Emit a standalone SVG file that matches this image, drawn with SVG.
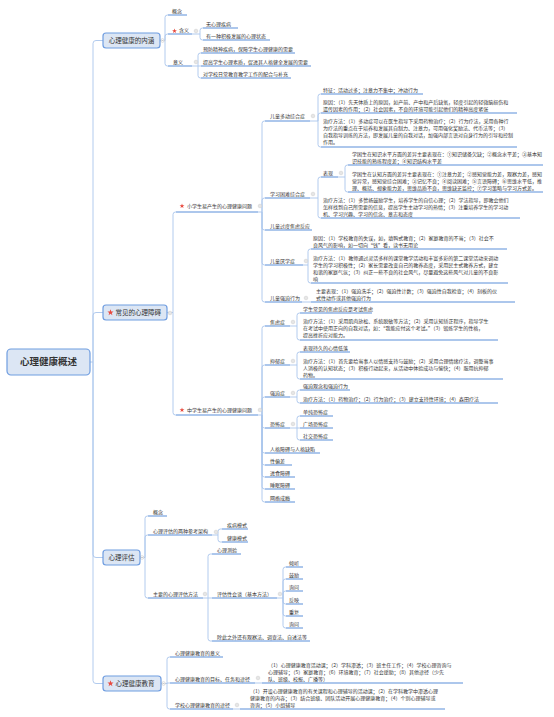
<svg xmlns="http://www.w3.org/2000/svg" width="554" height="717" viewBox="0 0 554 717">
<style>
text{font-family:"Noto Sans CJK SC","Noto Sans",sans-serif;fill:#333}
.t{font-size:5px}
.b{font-size:6.5px}
.r{font-size:9.5px;font-weight:bold}
.ul{stroke:#5b8fd9;stroke-width:1}
.c{fill:none;stroke:#a9c5ec;stroke-width:0.9}
.box{fill:#dce6f4;stroke:#6f9de0;stroke-width:1.2}
.fold{fill:#fff;stroke:#bbb;stroke-width:0.5}
.m{stroke:#999;stroke-width:0.5}
</style>
<defs>
<path id="star" d="M0,-2.6 L0.62,-0.85 L2.47,-0.8 L1,0.32 L1.53,2.1 L0,1.05 L-1.53,2.1 L-1,0.32 L-2.47,-0.8 L-0.62,-0.85Z" fill="#e84a3f"/>
<g id="fd"><circle r="1.8" class="fold"/><line x1="-1" x2="1" class="m"/></g>
</defs>
<rect width="554" height="717" fill="#fff"/>

<g id="connectors">
<path class="c" d="M90 362 H93 M93 362 V43.5 Q93 40.5 96 40.5 H103 M93 362 V315.5 Q93 312.5 96 312.5 H103 M93 362 V554.5 Q93 557.5 96 557.5 H103 M93 362 V680.5 Q93 683.5 96 683.5 H103"/>
<path class="c" d="M160 40.5 H165 M165 40.5 V17.5 Q165 15 167.5 15 H168 M165 40.5 V36.5 Q165 34 167.5 34 H168 M165 40.5 V63.5 Q165 66 167.5 66 H168"/>
<path class="c" d="M192 34 H200 M200 34 V30.5 Q200 28 202.5 28 H203 M200 34 V37.5 Q200 40 202.5 40 H203"/>
<path class="c" d="M192 66 H198 M198 66 V55.5 Q198 53 200.5 53 H201 M198 66 H201 M198 66 V75.5 Q198 78 200.5 78 H201"/>
<path class="c" d="M167 312.5 H173 M173 312.5 V214.5 Q173 212 175.5 212 H176 M173 312.5 V412.5 Q173 415 175.5 415 H176"/>
<path class="c" d="M258 212 H262 M262 212 V123.5 Q262 121 264.5 121 H265 M262 212 V200.5 Q262 198 264.5 198 H265 M262 212 V227.5 Q262 230 264.5 230 H265 M262 212 V262.5 Q262 265 264.5 265 H265 M262 212 V299.5 Q262 302 264.5 302 H265"/>
<path class="c" d="M258 415 H262 M262 415 V328.5 Q262 326 264.5 326 H265 M262 415 V367.5 Q262 365 264.5 365 H265 M262 415 V399.5 Q262 397 264.5 397 H265 M262 415 V425.5 Q262 428 264.5 428 H265 M262 415 V450.5 Q262 453 264.5 453 H265 M262 415 V462.5 Q262 465 264.5 465 H265 M262 415 V474.5 Q262 477 264.5 477 H265 M262 415 V486.5 Q262 489 264.5 489 H265 M262 415 V499.5 Q262 502 264.5 502 H265"/>
<path class="c" d="M310 121 H318 M318 121 V96.5 Q318 94 320.5 94 H321 M318 121 V115.5 Q318 113 320.5 113 H321 M318 121 V144.5 Q318 147 320.5 147 H321"/>
<path class="c" d="M310 198 H318 M318 198 V179.5 Q318 177 320.5 177 H321 M318 198 V215.5 Q318 218 320.5 218 H321"/>
<path class="c" d="M338 177 H345 M345 177 V167.5 Q345 165 347.5 165 H348 M345 177 V189.5 Q345 192 347.5 192 H348"/>
<path class="c" d="M303 265 H308 M308 265 V251.5 Q308 249 310.5 249 H311 M308 265 V280.5 Q308 283 310.5 283 H311"/>
<path class="c" d="M302 302 H311"/>
<path class="c" d="M290 326 H297 M297 326 V315.5 Q297 313 299.5 313 H300 M297 326 V337.5 Q297 340 299.5 340 H300"/>
<path class="c" d="M290 365 H297 M297 365 V354.5 Q297 352 299.5 352 H300 M297 365 V376.5 Q297 379 299.5 379 H300"/>
<path class="c" d="M290 397 H297 M297 397 V392.5 Q297 390 299.5 390 H300 M297 397 V400.5 Q297 403 299.5 403 H300"/>
<path class="c" d="M290 428 H297 M297 428 V418.5 Q297 416 299.5 416 H300 M297 428 H300 M297 428 V437.5 Q297 440 299.5 440 H300"/>
<path class="c" d="M140 557.5 H145 M145 557.5 V518.5 Q145 516 147.5 516 H148 M145 557.5 V537.5 Q145 535 147.5 535 H148 M145 557.5 V595.5 Q145 598 147.5 598 H148"/>
<path class="c" d="M212 535 H218 M218 535 V531.5 Q218 529 220.5 529 H222 M218 535 V539.5 Q218 542 220.5 542 H222"/>
<path class="c" d="M203 598 H208 M208 598 V556.5 Q208 554 210.5 554 H212 M208 598 H212 M208 598 V638.5 Q208 641 210.5 641 H212"/>
<path class="c" d="M277 598 H283 M283 598 V569.5 Q283 567 285.5 567 H286 M283 598 V581.5 Q283 579 285.5 579 H286 M283 598 V593.5 Q283 591 285.5 591 H286 M283 598 V601.5 Q283 604 285.5 604 H286 M283 598 V613.5 Q283 616 285.5 616 H286 M283 598 V625.5 Q283 628 285.5 628 H286"/>
<path class="c" d="M161 683.5 H167 M167 683.5 V659.5 Q167 657 169.5 657 H170 M167 683.5 V683 H170 M167 683.5 V706.5 Q167 709 169.5 709 H170"/>
<path class="c" d="M255 683 H262 M233 709 H240"/>
<use href="#fd" x="162.5" y="40.5"/><use href="#fd" x="196" y="31"/><use href="#fd" x="196" y="62"/>
<use href="#fd" x="170" y="313"/><use href="#fd" x="260" y="206"/><use href="#fd" x="260" y="410"/>
<use href="#fd" x="313" y="116"/><use href="#fd" x="313" y="194"/><use href="#fd" x="341" y="173"/>
<use href="#fd" x="306" y="261"/><use href="#fd" x="306" y="298"/><use href="#fd" x="293" y="322"/>
<use href="#fd" x="293" y="361"/><use href="#fd" x="293" y="393"/><use href="#fd" x="293" y="424"/>
<use href="#fd" x="142" y="557.5"/><use href="#fd" x="216" y="532"/><use href="#fd" x="205" y="594"/>
<use href="#fd" x="280" y="594"/><use href="#fd" x="163.5" y="683.5"/><use href="#fd" x="258" y="678"/><use href="#fd" x="237" y="705"/>
</g>

<g id="root"><rect class="box" x="7" y="349" width="83" height="26" rx="4" stroke-width="1.6"/><text class="r" x="48.5" y="365.4" text-anchor="middle">心理健康概述</text></g>

<g id="n-neihan"><rect class="box" x="103" y="33" width="57" height="15" rx="3"/><text class="b" x="131.5" y="42.8" text-anchor="middle">心理健康的内涵</text></g>
<g id="n-gainian1"><text class="t" x="172" y="12.8">概念</text><line class="ul" x1="168" y1="15" x2="187" y2="15"/></g>
<g id="n-hanyi"><use href="#star" x="174.5" y="31"/><text class="t" x="179" y="31.8">含义</text><line class="ul" x1="168" y1="34" x2="192" y2="34"/></g>
<g id="n-hy1"><text class="t" x="206" y="25.8">无心理疾病</text><line class="ul" x1="203" y1="28" x2="238" y2="28"/></g>
<g id="n-hy2"><text class="t" x="206" y="37.8">有一种积极发展的心理状态</text><line class="ul" x1="203" y1="40" x2="270" y2="40"/></g>
<g id="n-yiyi"><text class="t" x="173" y="63.8">意义</text><line class="ul" x1="168" y1="66" x2="192" y2="66"/></g>
<g id="n-yy1"><text class="t" x="203" y="50.8">预防精神疾病，保障学生心理健康的需要</text><line class="ul" x1="201" y1="53" x2="295" y2="53"/></g>
<g id="n-yy2"><text class="t" x="203" y="63.8">提高学生心理素质，促进其人格健全发展的需要</text><line class="ul" x1="201" y1="66" x2="311" y2="66"/></g>
<g id="n-yy3"><text class="t" x="203" y="75.8">对学校日常教育教学工作的配合与补充</text><line class="ul" x1="201" y1="78" x2="291" y2="78"/></g>

<g id="n-zhangai"><rect class="box" x="103" y="305" width="64" height="15" rx="3"/><use href="#star" transform="translate(110.5 312.5) scale(1.25)"/><text class="b" x="115.5" y="314.8">常见的心理障碍</text></g>
<g id="n-xiao"><use href="#star" x="182" y="206"/><text class="t" x="187" y="208">小学生易产生的心理健康问题</text><line class="ul" x1="176" y1="212" x2="258" y2="212"/></g>
<g id="n-zhong"><use href="#star" x="182" y="410"/><text class="t" x="187" y="412">中学生易产生的心理健康问题</text><line class="ul" x1="176" y1="415" x2="258" y2="415"/></g>

<g id="n-duodong"><text class="t" x="270" y="117.5">儿童多动综合症</text><line class="ul" x1="265" y1="121" x2="310" y2="121"/></g>
<g id="n-dd1"><text class="t" x="323" y="91.5">特征：活动过多；注意力不集中；冲动行为</text><line class="ul" x1="321" y1="94" x2="423" y2="94"/></g>
<g id="n-dd2"><text class="t" x="323" y="103.6">原因：（1）先天体质上的原因，如产前、产中和产后缺氧，轻度引起的轻微脑损伤和</text><text class="t" x="323" y="110.5">遗传因素的作用；（2）社会因素，不良的环境可能引起他们的精神高度紧张</text><line class="ul" x1="321" y1="113" x2="517" y2="113"/></g>
<g id="n-dd3"><text class="t" x="323" y="123">治疗方法：（1）多动症可以在医生指导下采用药物治疗；（2）行为疗法，采用各种行</text><text class="t" x="323" y="130">为疗法的重点在于培养和发展其自制力、注意力，可用强化奖励法、代币法等；（3）</text><text class="t" x="323" y="137">自我指导训练的方法，即发展儿童的自我对话，加强内部言语对自身行为的引导和控制</text><text class="t" x="323" y="144">作用。</text><line class="ul" x1="321" y1="147" x2="517" y2="147"/></g>

<g id="n-xuexi"><text class="t" x="270" y="195.5">学习困难综合症</text><line class="ul" x1="265" y1="198" x2="310" y2="198"/></g>
<g id="n-biaoxian"><text class="t" x="323" y="174.5">表现</text><line class="ul" x1="321" y1="177" x2="338" y2="177"/></g>
<g id="n-bx1"><text class="t" x="352" y="156">学困生在知识水平方面的差异主要表现在：①知识储备欠缺；②概念水平差；③基本知</text><text class="t" x="352" y="163">识技能的熟练程度差；④知识结构水平差</text><line class="ul" x1="348" y1="165" x2="543" y2="165"/></g>
<g id="n-bx2"><text class="t" x="352" y="175.5">学困生在认知方面的差异主要表现在：①注意力差；②感知觉能力差，观察力差，感知</text><text class="t" x="352" y="182.5">觉异常，感知觉综合困难；③记忆不良；④阅读困难；⑤言语障碍；⑥思维水平低，推</text><text class="t" x="352" y="189.5">理、概括、想象能力差，思维品质不良，思维缺乏监控；⑦学习策略与学习方式差。</text><line class="ul" x1="348" y1="192" x2="543" y2="192"/></g>
<g id="n-xx2"><text class="t" x="323" y="201.5">治疗方法：（1）多赞扬鼓励学生，培养学生的自信心理；（2）学法指导，即教会他们</text><text class="t" x="323" y="208.5">怎样找到自己所需要的信息，提高学生主动学习的热情；（3）注重培养学生的学习动</text><text class="t" x="323" y="215.5">机、学习兴趣、学习的信念、意志和态度</text><line class="ul" x1="321" y1="218" x2="520" y2="218"/></g>

<g id="n-jiaolv0"><text class="t" x="270" y="227.5">儿童过度焦虑反应</text><line class="ul" x1="265" y1="230" x2="312" y2="230"/></g>

<g id="n-yanxue"><text class="t" x="270" y="262.5">儿童厌学症</text><line class="ul" x1="265" y1="265" x2="303" y2="265"/></g>
<g id="n-yx1"><text class="t" x="313" y="239.5">原因：（1）学校教育的失误，如，填鸭式教育；（2）家庭教育的不当；（3）社会不</text><text class="t" x="313" y="246.5">良风气的影响，如一切向“钱”看，读书无用论</text><line class="ul" x1="311" y1="249" x2="507" y2="249"/></g>
<g id="n-yx2"><text class="t" x="313" y="259.5">治疗方法：（1）教师通过灵活多样的课堂教学活动和丰富多彩的第二课堂活动来调动</text><text class="t" x="313" y="266.5">学生的学习积极性；（2）家长需要改变自己的教养态度，采用民主式教养方式，建立</text><text class="t" x="313" y="273.5">和谐的家庭气氛；（3）纠正一些不良的社会风气，尽量避免这些风气对儿童的不良影</text><text class="t" x="313" y="280.5">响</text><line class="ul" x1="311" y1="283" x2="508" y2="283"/></g>

<g id="n-qiangpo0"><text class="t" x="270" y="299.5">儿童强迫行为</text><line class="ul" x1="265" y1="302" x2="302" y2="302"/></g>
<g id="n-qp0"><text class="t" x="316" y="292.5">主要表现：（1）强迫洗手；（2）强迫性计数；（3）强迫性自我检查；（4）刻板的仪</text><text class="t" x="316" y="299.5">式性动作或其他强迫行为</text><line class="ul" x1="311" y1="302" x2="515" y2="302"/></g>

<g id="n-jiaolv"><text class="t" x="270" y="323.5">焦虑症</text><line class="ul" x1="265" y1="326" x2="290" y2="326"/></g>
<g id="n-jl1"><text class="t" x="303" y="310.5">学生常见的焦虑反应是考试焦虑</text><line class="ul" x1="300" y1="313" x2="372" y2="313"/></g>
<g id="n-jl2"><text class="t" x="303" y="323">治疗方法：（1）采用肌肉放松、系统脱敏等方法；（2）采用认知矫正程序，指导学生</text><text class="t" x="303" y="330">在考试中使用正向的自我对话，如：“我能应付这个考试。”（3）锻炼学生的性格，</text><text class="t" x="303" y="337">提高挫折应对能力。</text><line class="ul" x1="300" y1="340" x2="498" y2="340"/></g>

<g id="n-yiyu"><text class="t" x="270" y="362.5">抑郁症</text><line class="ul" x1="265" y1="365" x2="290" y2="365"/></g>
<g id="n-yy-a"><text class="t" x="303" y="349.5">表现持久的心情低落</text><line class="ul" x1="300" y1="352" x2="350" y2="352"/></g>
<g id="n-yy-b"><text class="t" x="303" y="362.5">治疗方法：（1）首先要给当事人以情感支持与鼓励；（2）采用合理情绪疗法，调整当事</text><text class="t" x="303" y="369.5">人消极的认知状态；（3）积极行动起来，从活动中体验成功与愉快；（4）服用抗抑郁</text><text class="t" x="303" y="376.5">药物。</text><line class="ul" x1="300" y1="379" x2="503" y2="379"/></g>

<g id="n-qiangpo"><text class="t" x="270" y="394.5">强迫症</text><line class="ul" x1="265" y1="397" x2="290" y2="397"/></g>
<g id="n-qp1"><text class="t" x="303" y="387.5">强迫观念和强迫行为</text><line class="ul" x1="300" y1="390" x2="350" y2="390"/></g>
<g id="n-qp2"><text class="t" x="303" y="400.5">治疗方法：（1）药物治疗；（2）行为治疗；（3）建立支持性环境；（4）森田疗法</text><line class="ul" x1="300" y1="403" x2="498" y2="403"/></g>

<g id="n-kongbu"><text class="t" x="270" y="425.5">恐怖症</text><line class="ul" x1="265" y1="428" x2="290" y2="428"/></g>
<g id="n-kb1"><text class="t" x="303" y="413.5">单纯恐怖症</text><line class="ul" x1="300" y1="416" x2="333" y2="416"/></g>
<g id="n-kb2"><text class="t" x="303" y="425.5">广场恐怖症</text><line class="ul" x1="300" y1="428" x2="333" y2="428"/></g>
<g id="n-kb3"><text class="t" x="303" y="437.5">社交恐怖症</text><line class="ul" x1="300" y1="440" x2="333" y2="440"/></g>
<g id="n-renge"><text class="t" x="270" y="450.5">人格障碍与人格缺陷</text><line class="ul" x1="265" y1="453" x2="320" y2="453"/></g>
<g id="n-xing"><text class="t" x="270" y="462.5">性偏差</text><line class="ul" x1="265" y1="465" x2="292" y2="465"/></g>
<g id="n-jinshi"><text class="t" x="270" y="474.5">进食障碍</text><line class="ul" x1="265" y1="477" x2="295" y2="477"/></g>
<g id="n-shuimian"><text class="t" x="270" y="486.5">睡眠障碍</text><line class="ul" x1="265" y1="489" x2="295" y2="489"/></g>
<g id="n-wangluo"><text class="t" x="270" y="499.5">网络成瘾</text><line class="ul" x1="265" y1="502" x2="295" y2="502"/></g>

<g id="n-pinggu"><rect class="box" x="103" y="550" width="37" height="15" rx="3"/><text class="b" x="121.5" y="559.8" text-anchor="middle">心理评估</text></g>
<g id="n-gainian2"><text class="t" x="153" y="513.5">概念</text><line class="ul" x1="148" y1="516" x2="167" y2="516"/></g>
<g id="n-liangzhong"><text class="t" x="153" y="532.5">心理评估的两种参考架构</text><line class="ul" x1="148" y1="535" x2="212" y2="535"/></g>
<g id="n-jibing"><text class="t" x="227" y="526.5">疾病模式</text><line class="ul" x1="222" y1="529" x2="248" y2="529"/></g>
<g id="n-jiankang"><text class="t" x="227" y="539.5">健康模式</text><line class="ul" x1="222" y1="542" x2="248" y2="542"/></g>
<g id="n-zhuyao"><text class="t" x="153" y="595.5">主要的心理评估方法</text><line class="ul" x1="148" y1="598" x2="203" y2="598"/></g>
<g id="n-ceyan"><text class="t" x="217" y="551.5">心理测验</text><line class="ul" x1="212" y1="554" x2="241" y2="554"/></g>
<g id="n-huitan"><text class="t" x="217" y="595.5">评估性会谈（基本方法）</text><line class="ul" x1="212" y1="598" x2="277" y2="598"/></g>
<g id="n-h1"><text class="t" x="289" y="564.5">倾听</text><line class="ul" x1="286" y1="567" x2="303" y2="567"/></g>
<g id="n-h2"><text class="t" x="289" y="576.5">鼓励</text><line class="ul" x1="286" y1="579" x2="303" y2="579"/></g>
<g id="n-h3"><text class="t" x="289" y="588.5">询问</text><line class="ul" x1="286" y1="591" x2="303" y2="591"/></g>
<g id="n-h4"><text class="t" x="289" y="601.5">反映</text><line class="ul" x1="286" y1="604" x2="303" y2="604"/></g>
<g id="n-h5"><text class="t" x="289" y="613.5">重复</text><line class="ul" x1="286" y1="616" x2="303" y2="616"/></g>
<g id="n-h6"><text class="t" x="289" y="625.5">询问</text><line class="ul" x1="286" y1="628" x2="303" y2="628"/></g>
<g id="n-qita"><text class="t" x="217" y="638.5">除此之外还有观察法、调查法、自述法等</text><line class="ul" x1="212" y1="641" x2="310" y2="641"/></g>

<g id="n-jiaoyu"><rect class="box" x="103" y="676" width="58" height="15" rx="3"/><use href="#star" transform="translate(110.5 683.5) scale(1.25)"/><text class="b" x="115.5" y="685.8">心理健康教育</text></g>
<g id="n-jy1"><text class="t" x="175" y="654.5">心理健康教育的意义</text><line class="ul" x1="170" y1="657" x2="223" y2="657"/></g>
<g id="n-jy2"><text class="t" x="175" y="680.5">心理健康教育的目标、任务和途径</text><line class="ul" x1="170" y1="683" x2="255" y2="683"/></g>
<g id="n-jy2a"><text class="t" x="268" y="666.5">（1）心理健康教育活动课；（2）学科渗透；（3）班主任工作；（4）学校心理咨询与</text><text class="t" x="268" y="673.5">心理辅导；（5）家庭教育；（6）环境教育；（7）社会援助；（8）其他途径（少先</text><text class="t" x="268" y="680.5">队、班级、校报、广播等）</text><line class="ul" x1="262" y1="683" x2="463" y2="683"/></g>
<g id="n-jy3"><text class="t" x="175" y="706.5">学校心理健康教育的途径</text><line class="ul" x1="170" y1="709" x2="233" y2="709"/></g>
<g id="n-jy3a"><text class="t" x="250" y="692.5">（1）开设心理健康教育的有关课程和心理辅导的活动课；（2）在学科教学中渗透心理</text><text class="t" x="250" y="699.5">健康教育的内容；（3）结合班级、团队活动开展心理健康教育；（4）个别心理辅导或</text><text class="t" x="250" y="706.5">咨询；（5）小组辅导</text><line class="ul" x1="240" y1="709" x2="445" y2="709"/></g>
</svg>
